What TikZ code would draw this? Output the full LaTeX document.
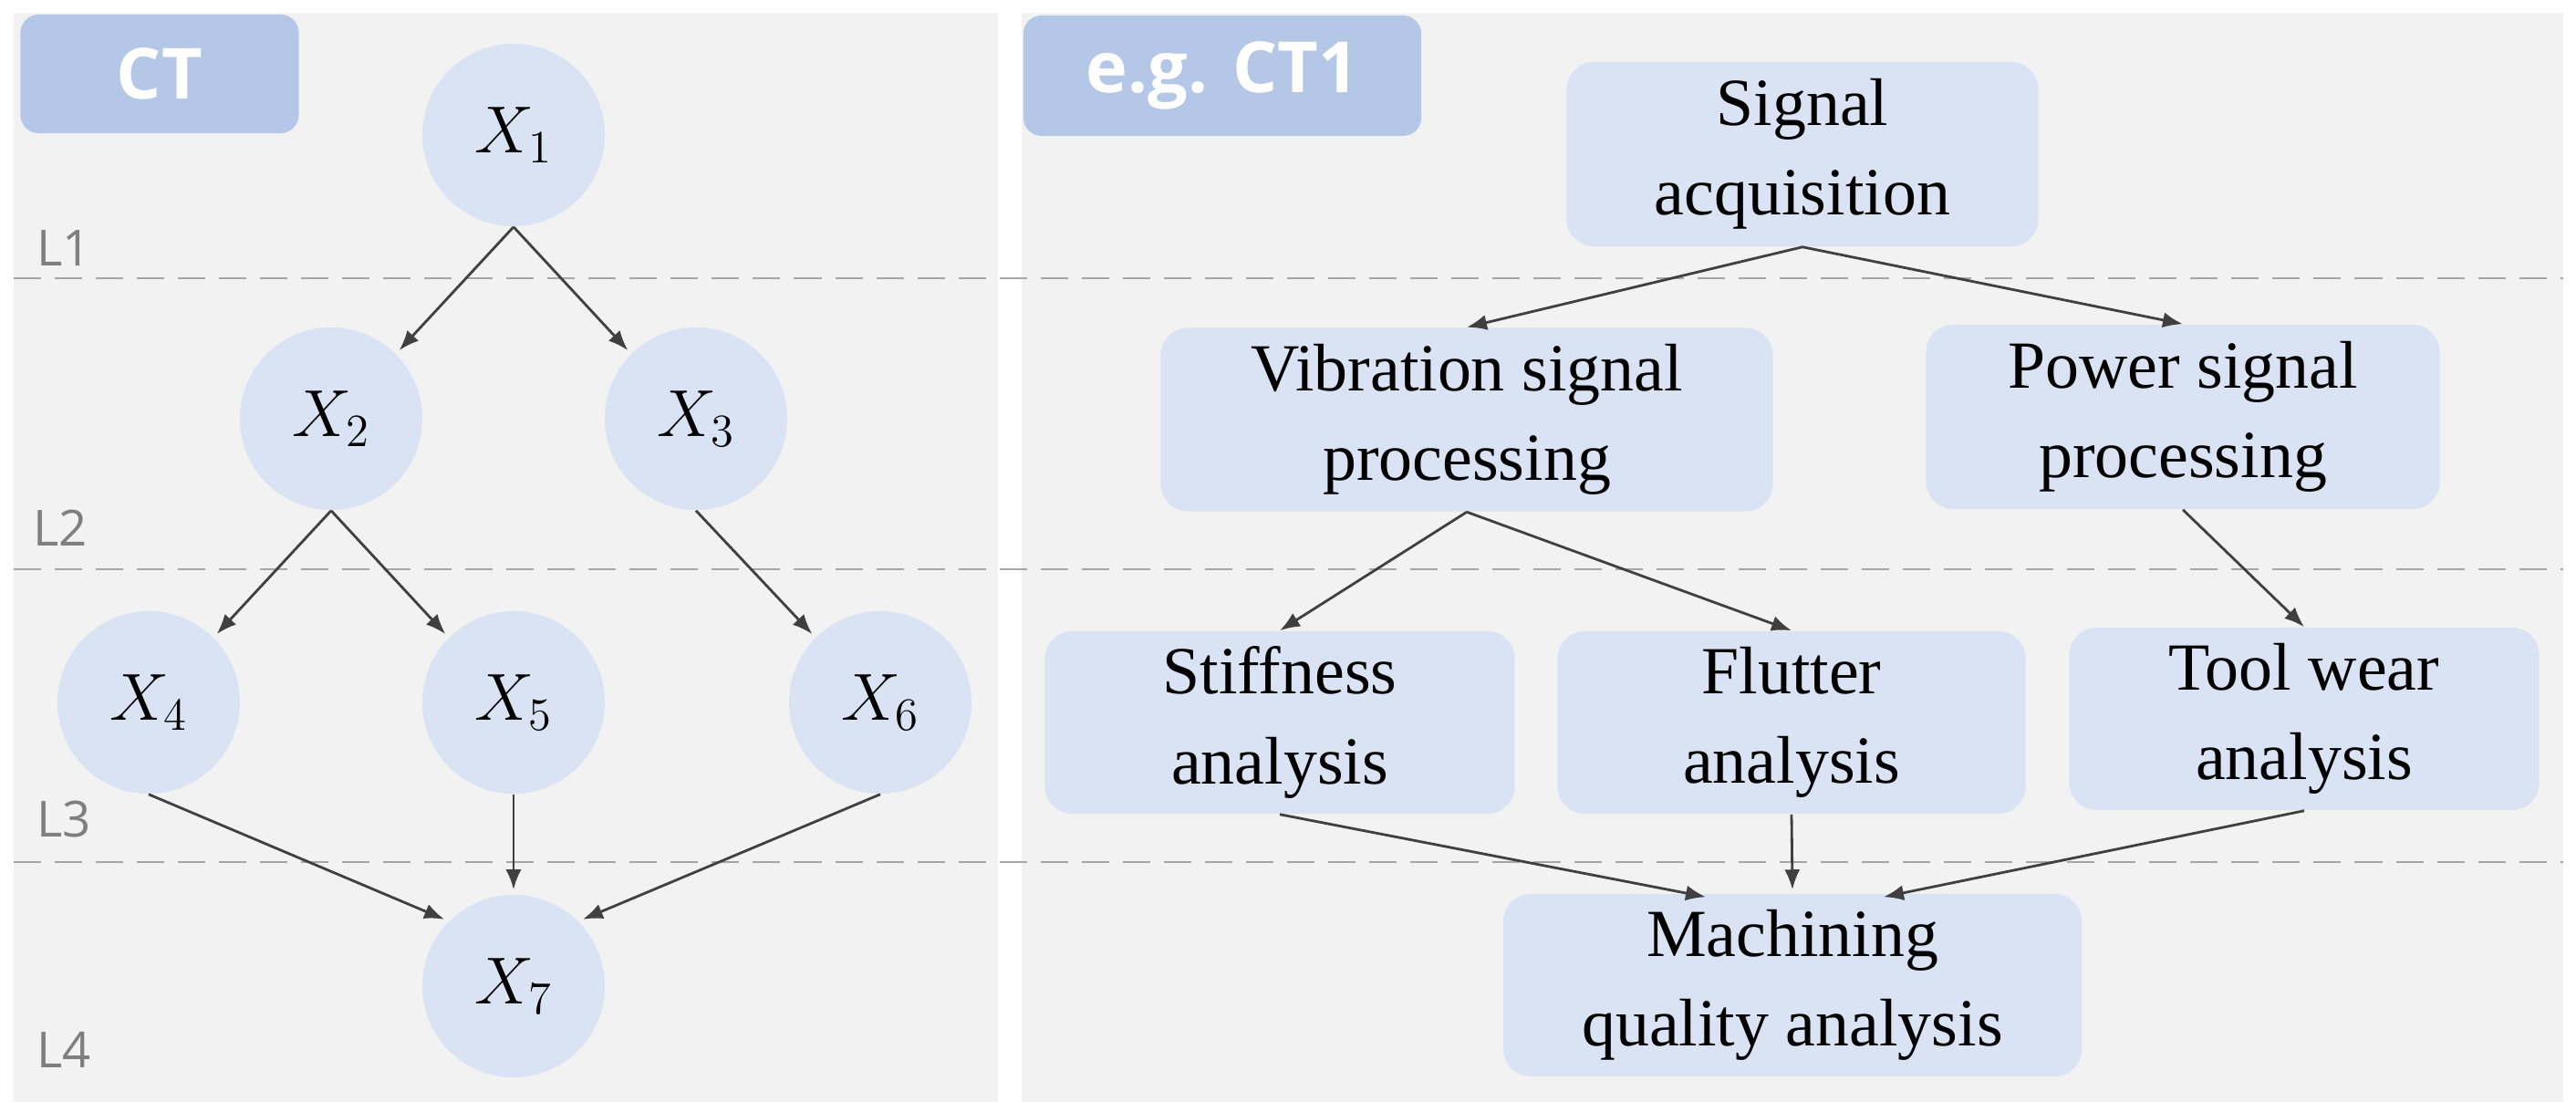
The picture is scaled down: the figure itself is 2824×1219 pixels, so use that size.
\documentclass[tikz,border=0pt]{standalone}
\usepackage{fontspec}
\setmainfont{Liberation Serif}
\newfontfamily\sansf{Open Sans}
\usetikzlibrary{arrows.meta,calc}
\definecolor{panel}{HTML}{F2F2F2}
\definecolor{nodefill}{HTML}{DAE3F3}
\definecolor{tagfill}{HTML}{B4C7E7}
\definecolor{arr}{HTML}{404040}
\definecolor{dash}{HTML}{A6A6A6}
\definecolor{lab}{HTML}{7F7F7F}
\begin{document}
\begin{tikzpicture}[x=0.01cm,y=-0.01cm,
  circ/.style={circle,fill=nodefill,minimum size=2cm,inner sep=0pt,font=\fontsize{22}{26}\selectfont},
  box/.style={rounded corners=0.3cm,fill=nodefill,align=center,inner sep=0pt,font=\fontsize{21}{28}\selectfont},
  tag/.style={rounded corners=0.2cm,fill=tagfill,text=white,inner sep=0pt,font=\sansf\bfseries\fontsize{22}{26}\selectfont},
  lvl/.style={text=lab,font=\sansf\fontsize{15.5}{18}\selectfont,anchor=west},
  con/.style={draw=arr,line width=0.8pt,-{Latex[length=0.22cm,width=0.17cm]}},
  dl/.style={draw=dash,line width=0.7pt,dash pattern=on 0.3cm off 0.15cm}]
\useasboundingbox (0,0) rectangle (2824,1219);
\fill[white] (0,0) rectangle (2824,1219);
\fill[panel] (15,14) rectangle (1094,1208);
\fill[panel] (1120,14) rectangle (2810,1208);
% tags
\node[tag,minimum width=3.05cm,minimum height=1.3cm] (ct) at (175,81) {CT};
\node[tag,minimum width=4.36cm,minimum height=1.32cm] (ect) at (1340,83) {e.g. CT1};
% dashed lines
\coordinate (d1a) at (15,305); \coordinate (d1b) at (2810,305);
\coordinate (d2a) at (15,624); \coordinate (d2b) at (2810,624);
\coordinate (d3a) at (15,945); \coordinate (d3b) at (2810,945);
\draw[dl] (d1a) -- (d1b);
\draw[dl] (d2a) -- (d2b);
\draw[dl] (d3a) -- (d3b);
% level labels
\node[lvl] (l1) at (28,272) {L1};
\node[lvl] (l2) at (24,579) {L2};
\node[lvl] (l3) at (28,898) {L3};
\node[lvl] (l4) at (28,1151) {L4};
% circles
\node[circ] (x1) at (563,148) {$X_1$};
\node[circ] (x2) at (363,459) {$X_2$};
\node[circ] (x3) at (763,459) {$X_3$};
\node[circ] (x4) at (163,770) {$X_4$};
\node[circ] (x5) at (563,770) {$X_5$};
\node[circ] (x6) at (965,770) {$X_6$};
\node[circ] (x7) at (563,1081) {$X_7$};
\begin{scope}[shorten >=0.05cm]
\draw[con] (x1.south) -- (x2.45);
\draw[con] (x1.south) -- (x3.135);
\draw[con] (x2.south) -- (x4.45);
\draw[con] (x2.south) -- (x5.135);
\draw[con] (x3.south) -- (x6.135);
\draw[con] (x4.south) -- (x7.135);
\draw[con] (x5.south) -- (x7.north);
\draw[con] (x6.south) -- (x7.45);
\end{scope}
% boxes
\node[box,minimum width=5.17cm,minimum height=2.02cm] (sa) at (1976,169) {Signal\\acquisition};
\node[box,minimum width=6.71cm,minimum height=2.01cm] (vs) at (1608,460) {Vibration signal\\processing};
\node[box,minimum width=5.63cm,minimum height=2.02cm] (ps) at (2393,457) {Power signal\\processing};
\node[box,minimum width=5.15cm,minimum height=2.0cm] (st) at (1403,792) {Stiffness\\analysis};
\node[box,minimum width=5.13cm,minimum height=2.0cm] (fl) at (1964,792) {Flutter\\analysis};
\node[box,minimum width=5.15cm,minimum height=2.0cm] (tw) at (2526,788) {Tool wear\\analysis};
\node[box,minimum width=6.34cm,minimum height=2.0cm] (mq) at (1965,1080) {Machining\\quality analysis};
\draw[con] (sa.south) -- (vs.north);
\draw[con] (sa.south) -- (ps.north);
\draw[con] (vs.south) -- (st.north);
\draw[con] (vs.south) -- (fl.north);
\draw[con] (ps.south) -- (tw.north);
\draw[con] (st.south) -- ($(mq.north)+(-95,4)$);
\draw[con] (fl.south) -- ($(mq.north)+(0,-4)$);
\draw[con] (tw.south) -- ($(mq.north)+(100,4)$);
\end{tikzpicture}
\end{document}
